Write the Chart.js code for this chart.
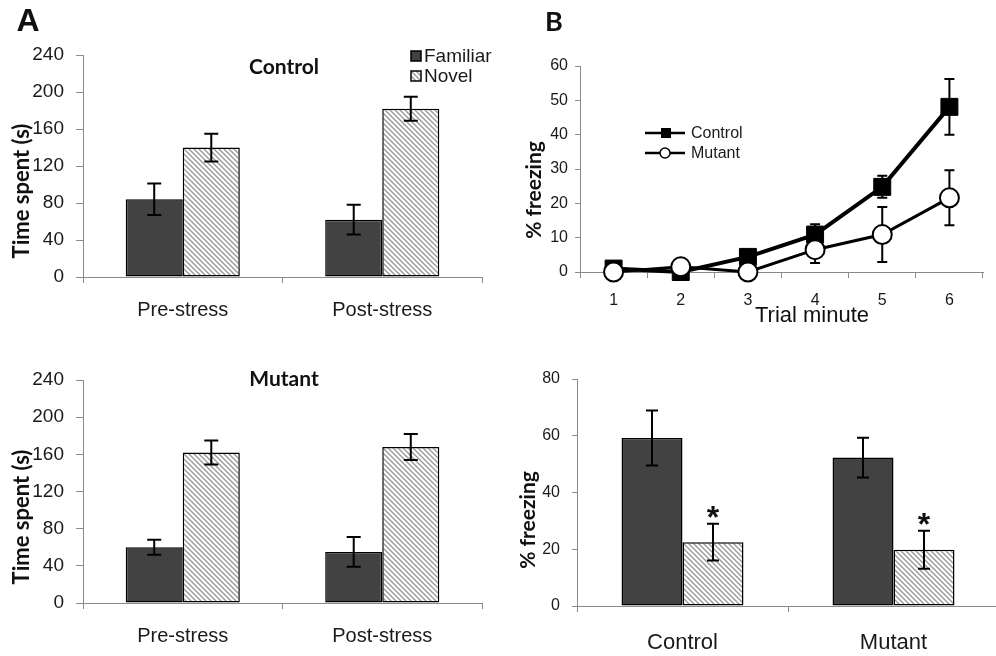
<!DOCTYPE html>
<html>
<head>
<meta charset="utf-8">
<script src="https://cdn.jsdelivr.net/npm/chart.js@4"></script>
<style>
  html, body { margin: 0; padding: 0; background: #fff; overflow: hidden; }
  #fig { position: relative; width: 996px; height: 656px; overflow: hidden; }
  #fig canvas { position: absolute; }
</style>
</head>
<body>
<div id="fig">
  <canvas id="ctrlTime" width="500" height="330" style="left:0;top:0"></canvas>
  <canvas id="mutTime" width="500" height="326" style="left:0;top:330px"></canvas>
  <canvas id="trialFreeze" width="496" height="330" style="left:500px;top:0"></canvas>
  <canvas id="contextFreeze" width="500" height="326" style="left:500px;top:330px"></canvas>
</div>
<script>
// panel A: time spent with the objects
const groups = ['Pre-stress', 'Post-stress'];
const timeTicks = [0, 40, 80, 120, 160, 200, 240];
const ctrlFamiliar = [84, 62];
const ctrlFamiliarErr = [17, 16];
const ctrlNovel = [140, 182];
const ctrlNovelErr = [15, 13];
const mutFamiliar = [60, 55];
const mutFamiliarErr = [8, 16];
const mutNovel = [162, 168];
const mutNovelErr = [13, 14];

// panel B top: freezing per trial minute
const minutes = ['1', '2', '3', '4', '5', '6'];
const freezeTicks = [0, 10, 20, 30, 40, 50, 60];
const ctrlFreeze = [1, 0, 4.4, 10.9, 24.8, 48.1];
const ctrlFreezeErr = [0.5, 0.4, 0.8, 3, 3.2, 8.1];
const mutFreeze = [0, 1.5, 0, 6.5, 10.9, 21.6];
const mutFreezeErr = [0.3, 0.5, 0.3, 3.9, 8, 8];

// panel B bottom: freezing by genotype
const genotypes = ['Control', 'Mutant'];
const contextTicks = [0, 20, 40, 60, 80];
const darkFreeze = [59.2, 52.3];
const darkFreezeErr = [9.7, 7];
const hatchFreeze = [22.5, 19.8];
const hatchFreezeErr = [6.5, 6.7];
const hatchStars = [true, true];

const SANS = '"Liberation Sans", Arial, sans-serif';
const BOLD = 'Lato, "Open Sans", sans-serif';
Chart.defaults.font.family = SANS;
Chart.defaults.color = '#1a1a1a';
const DARK = '#424242';

function hatch() {
  const c = document.createElement('canvas');
  c.width = c.height = 5;
  const g = c.getContext('2d');
  g.fillStyle = '#fff';
  g.fillRect(0, 0, 5, 5);
  g.strokeStyle = '#999';
  g.lineWidth = 1.4;
  g.beginPath();
  g.moveTo(-1, -1); g.lineTo(6, 6);
  g.moveTo(-1, 4); g.lineTo(1, 6);
  g.moveTo(4, -1); g.lineTo(6, 1);
  g.stroke();
  return g.createPattern(c, 'repeat');
}
const HATCH = hatch();

function errorBars(chart) {
  const ctx = chart.ctx, y = chart.scales.y;
  chart.data.datasets.forEach((ds, i) => {
    if (!ds.errors) return;
    chart.getDatasetMeta(i).data.forEach((el, j) => {
      const v = ds.data[j], e = ds.errors[j];
      const top = y.getPixelForValue(v + e);
      const bot = y.getPixelForValue(Math.max(0, v - e));
      const w = ds.capHalf || 7;
      ctx.save();
      ctx.strokeStyle = '#000';
      ctx.lineWidth = 2;
      ctx.beginPath();
      ctx.moveTo(el.x, top); ctx.lineTo(el.x, bot);
      ctx.moveTo(el.x - w, top); ctx.lineTo(el.x + w, top);
      ctx.moveTo(el.x - w, bot); ctx.lineTo(el.x + w, bot);
      ctx.stroke();
      if (ds.stars && ds.stars[j]) {
        ctx.fillStyle = '#111';
        ctx.font = 'bold 32px ' + SANS;
        ctx.textAlign = 'center';
        ctx.textBaseline = 'alphabetic';
        ctx.fillText('*', el.x, top + 4);
      }
      ctx.restore();
    });
  });
}

const extras = {
  id: 'extras',
  beforeDatasetsDraw(chart, args, opts) { if (opts.under) errorBars(chart); },
  afterDatasetsDraw(chart, args, opts) { if (!opts.under) errorBars(chart); },
  afterDraw(chart, args, opts) {
    const ctx = chart.ctx;
    (opts.texts || []).forEach(t => {
      ctx.save();
      ctx.font = t.font;
      ctx.fillStyle = '#111';
      ctx.textAlign = 'center';
      ctx.textBaseline = 'middle';
      ctx.translate(t.x, t.y);
      if (t.rot) ctx.rotate(t.rot);
      ctx.fillText(t.text, 0, 0);
      ctx.restore();
    });
    const lg = opts.legend;
    if (!lg) return;
    chart.data.datasets.forEach((ds, i) => {
      const y = lg.y + i * lg.gap;
      ctx.save();
      ctx.strokeStyle = '#000';
      if (lg.kind === 'box') {
        ctx.fillStyle = ds.backgroundColor;
        ctx.lineWidth = 1.5;
        ctx.fillRect(lg.x, y - 5, 10, 10);
        ctx.strokeRect(lg.x, y - 5, 10, 10);
      } else {
        ctx.lineWidth = 2.5;
        ctx.beginPath(); ctx.moveTo(lg.x, y); ctx.lineTo(lg.x + 40, y); ctx.stroke();
        ctx.lineWidth = 1.5;
        if (ds.pointStyle === 'rect') {
          ctx.fillStyle = '#000';
          ctx.fillRect(lg.x + 16, y - 5, 10, 10);
        } else {
          ctx.fillStyle = '#fff';
          ctx.beginPath(); ctx.arc(lg.x + 20, y, 5, 0, Math.PI * 2); ctx.fill(); ctx.stroke();
        }
      }
      ctx.fillStyle = '#1a1a1a';
      ctx.font = lg.font;
      ctx.textAlign = 'left';
      ctx.textBaseline = 'middle';
      ctx.fillText(ds.label, lg.x + lg.textDx, y + 1);
      ctx.restore();
    });
  }
};

function axes(labels, ticks, opt) {
  return {
    x: {
      type: 'category', labels: labels, offset: true,
      border: { color: '#8a8a8a', width: 1 },
      grid: { display: true, offset: true, drawOnChartArea: false, drawTicks: true, tickLength: 6, color: '#8a8a8a' },
      ticks: { padding: opt.xPad, font: { size: opt.xFont }, color: '#1a1a1a', maxRotation: 0 },
      afterFit: s => { s.height = opt.xH; }
    },
    y: {
      min: ticks[0], max: ticks[ticks.length - 1],
      border: { color: '#8a8a8a', width: 1 },
      grid: { display: true, drawOnChartArea: false, drawTicks: true, tickLength: opt.yTick, color: '#8a8a8a' },
      ticks: { padding: opt.yPad, font: { size: opt.yFont }, color: '#1a1a1a' },
      afterBuildTicks: s => { s.ticks = ticks.map(v => ({ value: v })); },
      afterFit: s => { s.width = opt.yW; }
    }
  };
}

function timeChart(id, fam, famErr, nov, novErr, title, withLegend, letter) {
  const texts = [
    { text: title, x: 284, y: title === 'Control' ? 67 : 49, font: 'bold 21px ' + BOLD },
    { text: 'Time spent (s)', x: 22, y: id === 'ctrlTime' ? 191 : 187, rot: -Math.PI / 2, font: 'bold 22px ' + BOLD }
  ];
  if (letter) texts.push({ text: 'A', x: 28, y: 22, font: 'bold 32px ' + SANS });
  new Chart(document.getElementById(id), {
    type: 'bar',
    data: {
      labels: groups,
      datasets: [
        { label: 'Familiar', data: fam, errors: famErr, capHalf: 7, backgroundColor: DARK, borderColor: '#000', borderWidth: 1.5, borderSkipped: false },
        { label: 'Novel', data: nov, errors: novErr, capHalf: 7, backgroundColor: HATCH, borderColor: '#000', borderWidth: 1.5, borderSkipped: false }
      ]
    },
    options: {
      responsive: false, animation: false,
      layout: { padding: { left: 0, right: 18, top: id === 'ctrlTime' ? 55 : 50, bottom: 0 } },
      datasets: { bar: { categoryPercentage: 0.572, barPercentage: 1 } },
      scales: axes(groups, timeTicks, { xPad: 15, xFont: 20, xH: 53, yTick: 7, yPad: 12, yFont: 19, yW: 83 }),
      plugins: {
        legend: { display: false }, tooltip: { enabled: false },
        extras: {
          texts: texts,
          legend: withLegend ? { kind: 'box', x: 411, y: 56, gap: 20, textDx: 13, font: '19px ' + SANS } : null
        }
      }
    },
    plugins: [extras]
  });
}

timeChart('ctrlTime', ctrlFamiliar, ctrlFamiliarErr, ctrlNovel, ctrlNovelErr, 'Control', true, true);
timeChart('mutTime', mutFamiliar, mutFamiliarErr, mutNovel, mutNovelErr, 'Mutant', false, false);

new Chart(document.getElementById('trialFreeze'), {
  type: 'line',
  data: {
    labels: minutes,
    datasets: [
      { label: 'Control', data: ctrlFreeze, errors: ctrlFreezeErr, capHalf: 5, order: 2,
        borderColor: '#000', borderWidth: 4, pointStyle: 'rect', pointRadius: 12,
        pointBackgroundColor: '#000', pointBorderColor: '#000', pointBorderWidth: 1, tension: 0 },
      { label: 'Mutant', data: mutFreeze, errors: mutFreezeErr, capHalf: 5, order: 1,
        borderColor: '#000', borderWidth: 3, pointStyle: 'circle', pointRadius: 9.5,
        pointBackgroundColor: '#fff', pointBorderColor: '#000', pointBorderWidth: 2, tension: 0 }
    ]
  },
  options: {
    responsive: false, animation: false, clip: false,
    layout: { padding: { left: 0, right: 7, top: 66, bottom: 0 } },
    scales: axes(minutes, freezeTicks, { xPad: 13, xFont: 16, xH: 58, yTick: 5, yPad: 7, yFont: 16, yW: 80 }),
    plugins: {
      legend: { display: false }, tooltip: { enabled: false },
      extras: {
        under: true,
        texts: [
          { text: 'B', x: 54, y: 22, font: 'bold 27px ' + BOLD },
          { text: '% freezing', x: 34, y: 190, rot: -Math.PI / 2, font: 'bold 21px ' + BOLD },
          { text: 'Trial minute', x: 312, y: 316, font: '22px ' + SANS }
        ],
        legend: { kind: 'line', x: 145, y: 133, gap: 20, textDx: 46, font: '16px ' + SANS }
      }
    }
  },
  plugins: [extras]
});

new Chart(document.getElementById('contextFreeze'), {
  type: 'bar',
  data: {
    labels: genotypes,
    datasets: [
      { label: 'Dark', data: darkFreeze, errors: darkFreezeErr, capHalf: 6, backgroundColor: DARK, borderColor: '#000', borderWidth: 1.5, borderSkipped: false },
      { label: 'Hatched', data: hatchFreeze, errors: hatchFreezeErr, stars: hatchStars, capHalf: 6, backgroundColor: HATCH, borderColor: '#000', borderWidth: 1.5, borderSkipped: false }
    ]
  },
  options: {
    responsive: false, animation: false,
    layout: { padding: { left: 0, right: 1, top: 49, bottom: 0 } },
    datasets: { bar: { categoryPercentage: 0.578, barPercentage: 1 } },
    scales: axes(genotypes, contextTicks, { xPad: 18, xFont: 22, xH: 50, yTick: 5, yPad: 12, yFont: 16, yW: 77 }),
    plugins: {
      legend: { display: false }, tooltip: { enabled: false },
      extras: {
        texts: [
          { text: '% freezing', x: 28, y: 190, rot: -Math.PI / 2, font: 'bold 21px ' + BOLD }
        ]
      }
    }
  },
  plugins: [extras]
});
</script>
</body>
</html>
